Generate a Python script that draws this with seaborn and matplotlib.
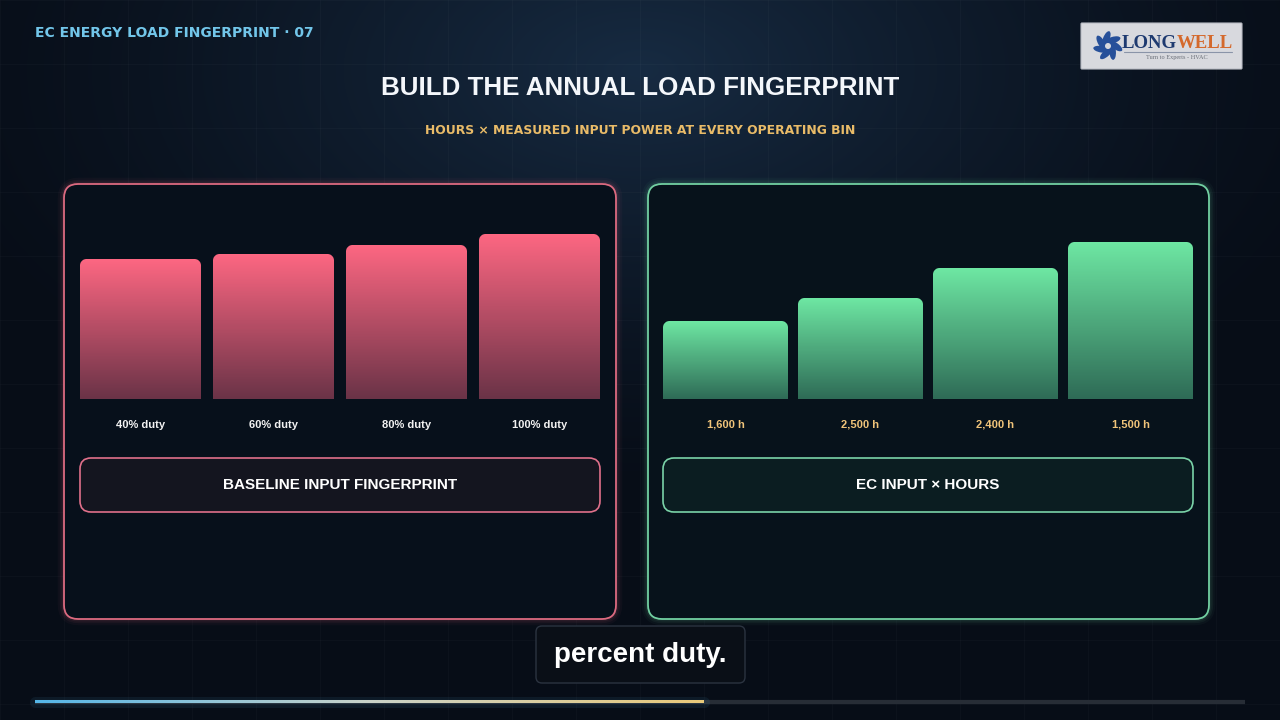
import numpy as np
import pandas as pd
import matplotlib
matplotlib.use('Agg')
import matplotlib.pyplot as plt
from matplotlib.patches import FancyBboxPatch, Ellipse, Circle
from matplotlib.colors import LinearSegmentedColormap
import seaborn as sns

# 数据
duty_labels = ['40% duty', '60% duty', '80% duty', '100% duty']
baseline_input = [139, 144, 153, 164]
hour_labels = ['1,600 h', '2,500 h', '2,400 h', '1,500 h']
ec_input_hours = [77, 100, 130, 156]

W, H = 1280, 720

sns.set_theme(style='dark')
plt.rcParams['font.family'] = ['Liberation Sans', 'DejaVu Sans']

fig = plt.figure(figsize=(12.8, 7.2), dpi=100)
bg = fig.add_axes([0, 0, 1, 1])
bg.axis('off')

# 背景: 深蓝 + 顶部光晕
yy, xx = np.mgrid[0:H, 0:W]
d = np.sqrt(((xx - 640) / 760) ** 2 + ((yy - 70) / 430) ** 2)
glow = np.clip(1 - d, 0, 1) ** 1.4
base = np.array([0x07, 0x0d, 0x17]) / 255
top = np.array([0x17, 0x2b, 0x42]) / 255
img = base + (top - base) * glow[..., None]
bg.imshow(img, extent=(0, W, H, 0), aspect='auto', zorder=0)
for gx in range(0, W, 64):
    bg.plot([gx, gx], [0, H], color='white', alpha=0.025, lw=0.8, zorder=1)
for gy in range(0, H, 64):
    bg.plot([0, W], [gy, gy], color='white', alpha=0.025, lw=0.8, zorder=1)
bg.set_xlim(0, W)
bg.set_ylim(H, 0)


def rbox(x0, y0, x1, y1, r, ec, fc, lw=1.4, z=2, glow_c=None):
    if glow_c is not None:
        for gw, ga in [(9, 0.04), (6, 0.06), (3.5, 0.08)]:
            bg.add_patch(FancyBboxPatch((x0, y0), x1 - x0, y1 - y0,
                                        boxstyle=f'round,pad=0,rounding_size={r}',
                                        ec=glow_c, fc='none', lw=gw, alpha=ga, zorder=z))
    bg.add_patch(FancyBboxPatch((x0, y0), x1 - x0, y1 - y0,
                                boxstyle=f'round,pad=0,rounding_size={r}',
                                ec=ec, fc=fc, lw=lw, zorder=z))


# 标题
bg.text(35, 33, 'EC ENERGY LOAD FINGERPRINT · 07', color='#72c6ea', fontsize=10,
        fontweight='bold', ha='left', va='center', family=['DejaVu Sans'], zorder=5)
bg.text(640, 88, 'BUILD THE ANNUAL LOAD FINGERPRINT', color='#f4f7fb', fontsize=18.7,
        fontweight='bold', ha='center', va='center', zorder=5)
bg.text(640, 131, 'HOURS × MEASURED INPUT POWER AT EVERY OPERATING BIN', color='#e9bb68',
        fontsize=8.9, fontweight='bold', ha='center', va='center', family=['DejaVu Sans'], zorder=5)

# Logo
rbox(1081, 23, 1242, 69, 1, '#b9bcc4', '#d8d9de', lw=0.8, z=5)
for k in range(7):
    ang = k * 360 / 7
    t = np.deg2rad(ang)
    bg.add_patch(Ellipse((1108 + 7.5 * np.cos(t), 46 + 7.5 * np.sin(t)), 16, 6.5, angle=ang + 35,
                         fc='#27509a', ec='none', zorder=6))
bg.add_patch(Circle((1108, 46), 3, fc='#d8d9de', ec='none', zorder=7))
bg.text(1177, 43, 'LONG', color='#1e3a70', fontsize=13.5, fontweight='bold', ha='right',
        va='center', family=['Liberation Serif'], zorder=6)
bg.text(1177, 43, 'WELL', color='#d4692c', fontsize=13.5, fontweight='bold', ha='left',
        va='center', family=['Liberation Serif'], zorder=6)
bg.plot([1124, 1232], [52, 52], color='#8a94a8', lw=0.8, zorder=6)
bg.text(1177, 58, 'Turn to Experts - HVAC', color='#6a6f78', fontsize=4.5, ha='center',
        va='center', family=['Liberation Serif'], zorder=6)

# 面板
rbox(64, 184, 616, 619, 14, '#dc6a80', '#07101b', lw=1.3, z=2, glow_c='#e0687f')
rbox(648, 184, 1209, 619, 14, '#72d0a2', '#07121b', lw=1.3, z=2, glow_c='#72d3a4')
rbox(80, 458, 600, 512, 11, '#e0708a', '#14151f', lw=1.2, z=3)
rbox(663, 458, 1193, 512, 11, '#7ad3a8', '#0b1d21', lw=1.2, z=3)
bg.text(340, 485, 'BASELINE INPUT FINGERPRINT', color='white', fontsize=11, fontweight='bold',
        ha='center', va='center', zorder=5)
bg.text(928, 485, 'EC INPUT × HOURS', color='white', fontsize=11, fontweight='bold',
        ha='center', va='center', zorder=5)


def gradient_bar_rgba(nx, ny, r, cmap):
    # 渐变 + 顶部圆角 (alpha 掩膜)
    u = np.arange(nx) + 0.5
    v = np.arange(ny) + 0.5  # 自顶向下
    uu, vv = np.meshgrid(u, v)
    cx = np.clip(uu, r, nx - r)
    cy = np.maximum(vv, r)
    dist = np.sqrt((uu - cx) ** 2 + (vv - cy) ** 2)
    alpha = np.clip(r + 0.5 - dist, 0, 1)
    rgba = cmap(1 - vv / ny)
    rgba[..., 3] = alpha
    return rgba


def bar_panel(x0, x1, spacing, labels, values, c_top, c_bot, label_color):
    ax = fig.add_axes([x0 / W, (H - 399) / H, (x1 - x0) / W, 200 / H])
    ax.patch.set_alpha(0)
    bw = (x1 - x0) / spacing - 3
    df = pd.DataFrame({'bin': labels, 'value': values})
    sns.barplot(data=df, x='bin', y='value', ax=ax, width=bw, color=c_top)
    cmap = LinearSegmentedColormap.from_list('g', [c_bot, c_top])
    for p in list(ax.patches):
        bx, bwid, bh = p.get_x(), p.get_width(), p.get_height()
        p.set_visible(False)
        rgba = gradient_bar_rgba(int(round(bwid * spacing)), int(round(bh)), 6.5, cmap)
        ax.imshow(rgba, extent=(bx, bx + bwid, 0, bh), origin='upper',
                  aspect='auto', zorder=3, interpolation='nearest')
    ax.set_xlim(-bw / 2, 3 + bw / 2)
    ax.set_ylim(0, 200)
    ax.set_xlabel('')
    ax.set_ylabel('')
    ax.set_yticks([])
    ax.grid(False)
    for s in ax.spines.values():
        s.set_visible(False)
    ax.tick_params(axis='x', length=0, pad=15, labelsize=8, labelcolor=label_color)
    for t in ax.get_xticklabels():
        t.set_fontweight('bold')
    return ax


bar_panel(80, 600, 133, duty_labels, baseline_input, '#fd6782', '#6a3347', '#f2f2f2')
bar_panel(663, 1193, 135, hour_labels, ec_input_hours, '#6ee7a3', '#2e6b56', '#f0c47a')

# 字幕
rbox(536, 626, 745, 683, 6, '#2b3340', '#0a0f17', lw=1.0, z=4)
bg.text(640, 655, 'percent duty.', color='white', fontsize=20, fontweight='bold',
        ha='center', va='center', zorder=5)

# 进度条
bg.plot([35, 1245], [702, 702], color='#272d36', lw=3, solid_capstyle='butt', zorder=4)
pcmap = LinearSegmentedColormap.from_list('p', ['#55b6e8', '#c9d2c8', '#e9c97a'])
bg.imshow(np.linspace(0, 1, 256).reshape(1, -1), extent=(35, 704, 703.5, 700.5),
          cmap=pcmap, aspect='auto', zorder=5)
bg.plot([35, 704], [702, 702], color='#55b6e8', lw=8, alpha=0.08, zorder=4)
bg.set_xlim(0, W)
bg.set_ylim(H, 0)

fig.savefig('out.png', dpi=100, facecolor='#080e18')
